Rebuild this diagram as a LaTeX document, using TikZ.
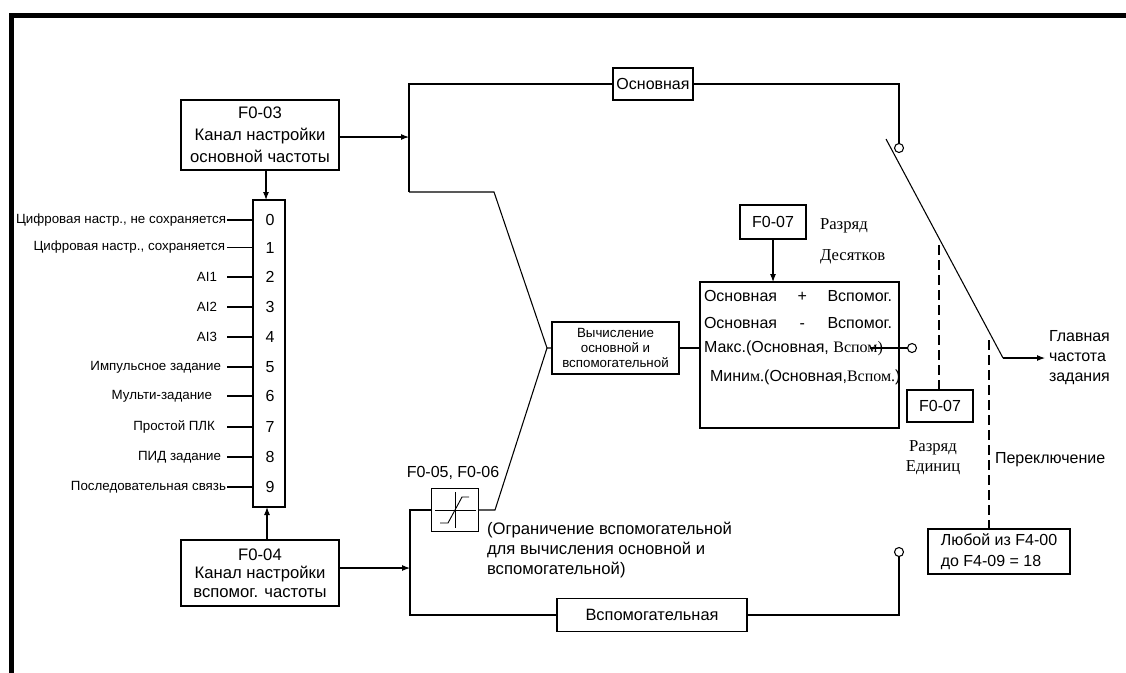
\documentclass[tikz,border=0pt]{standalone}
\usepackage{fontspec}
\setmainfont{Liberation Sans}
\newfontfamily\serfont{Liberation Serif}
\usetikzlibrary{arrows.meta,calc}
\begin{document}
\begin{tikzpicture}[x=0.75pt,y=-0.75pt,
  line width=0.8pt,
  every node/.style={inner sep=0pt, outer sep=0pt},
  sz/.style 2 args={minimum width=#1*0.75pt, minimum height=#2*0.75pt},
  blk/.style={draw, line width=0.8pt, align=center, font=\fontsize{12}{16.5}\selectfont},
  arr/.style={-{Latex[length=6pt,width=4.5pt]}},
  dsh/.style={dash pattern=on 7.5pt off 3.75pt},
  port/.style={draw, circle, minimum size=6.75pt, fill=white},
  lbl/.style={font=\fontsize{10}{12}\selectfont, anchor=east},
  txt/.style={font=\fontsize{12}{15}\selectfont},
]
\useasboundingbox (0,0) rectangle (1126,672);
% frame
\draw[line width=3.75pt] (11.7,690) -- (11.7,15.8) -- (1140,15.8);

% left blocks
\node[blk, sz={158}{70}, font=\fontsize{12.5}{16.5}\selectfont] (F003) at (260,135) {F0-03\\Канал настройки\\основной частоты};
\node[blk, sz={32}{307}] (List) at (269,353.5) {};
\node[blk, sz={158}{66}, font=\fontsize{12.5}{14}\selectfont] (F004) at (260,573) {F0-04\\Канал настройки\\вспомог. частоты};

\foreach \i/\y/\g/\t in {
  0/220/1/{Цифровая настр., не сохраняется},
  1/247.5/2/{Цифровая настр., сохраняется},
  2/277/10/{AI1},
  3/307/10/{AI2},
  4/337/10/{AI3},
  5/367/6/{Импульсное задание},
  6/396/15/{Мульти-задание},
  7/427/12/{Простой ПЛК},
  8/457/6/{ПИД задание},
  9/487/1/{Последовательная связь}}{
  \node[font=\fontsize{12}{14}\selectfont] (n\i) at (270,\y) {\i};
  \node[lbl, inner xsep=\g*0.75pt] (l\i) at (227,\y) {\t};
  \draw (l\i.east) -- (l\i.east -| List.west);
}

\draw[arr] (266,0 |- F003.south) -- (266,0 |- List.north);
\draw[arr] (267,0 |- F004.north) -- (267,0 |- List.south);

% coordinates of main paths
\coordinate (TL) at (409,84);
\coordinate (BL) at (409,192);
\coordinate (A3) at (409,137);
\coordinate (D1) at (494,192);
\coordinate (J) at (547,348);
\coordinate (D2) at (495,510);
\coordinate (AL) at (410,510);
\coordinate (ABL) at (410,615);
\coordinate (A4) at (410,568);

\node[blk, sz={80}{32}] (Osn) at (653,84) {Основная};
\node[blk, sz={127}{52}, font=\fontsize{10}{11.25}\selectfont] (Calc) at (615.5,348) {Вычисление\\основной и\\вспомогательной};
\node[blk, sz={199}{146}] (Form) at (799.5,355) {};
\node[blk, sz={66}{34}] (F007a) at (773,222) {F0-07};
\node[blk, sz={66}{32}] (F007b) at (940,406) {F0-07};
\node[blk, sz={142}{45}, align=left, font=\fontsize{12}{15.5}\selectfont] (Lyu) at (999,551.5) {Любой из F4-00\\до F4-09 = 18};
\node[blk, sz={47}{43}] (Lim) at (455,510) {};
\node[blk, sz={190}{33}, font=\fontsize{12.3}{15}\selectfont] (Vsp) at (652,615) {Вспомогательная};

\node[port] (c1) at (899,148) {};
\node[port] (c2) at (912,348) {};
\node[port] (c3) at (899,552) {};

% limiter symbol
\draw[line width=0.7pt] ($(Lim.center)+(-20,0)$) -- ++(41,0);
\draw[line width=0.7pt] ($(Lim.center)+(0,-18)$) -- ++(0,36);
\draw[line width=0.7pt] ($(Lim.center)+(-15,13)$) -- ++(8,0) -- ++(14,-26) -- ++(7,0);

% paths
\draw[arr] (F003.east |- A3) -- (A3);
\draw (BL) -- (TL) -- (Osn.west);
\draw (Osn.east) -- (Osn.east -| c1) -- (c1.north);
\draw (BL) -- (D1) -- (J) -- (Calc.west);
\draw (J) -- (D2) -- (Lim.east);
\draw (Lim.west) -- (AL) -- (ABL) -- (Vsp.west);
\draw (Vsp.east) -- (Vsp.east -| c3) -- (c3.south);
\draw[arr] (F004.east |- A4) -- (A4);
\draw (Calc.east) -- (Calc.east -| Form.west);
\draw[arr] (F007a.south) -- (F007a.south |- Form.north);

% formula text
\node[anchor=west, font=\fontsize{12}{14}\selectfont] (f1) at (704,296) {\hbox to 141pt{Основная\hfill+\hfill Вспомог.}};
\node[anchor=west, font=\fontsize{12}{14}\selectfont] (f2) at (704,323) {\hbox to 141pt{Основная\hfill-\hfill Вспомог.}};
\node[anchor=west, font=\fontsize{12}{14}\selectfont] (f3) at (704,348) {Макс.(Основная, {\serfont Вспом)}};
\node[anchor=west, font=\fontsize{12}{14}\selectfont] (f4) at (710,377) {Мини{\serfont м.}(Основная,{\serfont Вспом.})};
\coordinate (F3L) at (870,348);
\draw (F3L) -- (c2.west);

% switch
\coordinate (S1) at (886,139);
\coordinate (S2) at (1003,358);
\node[anchor=west, align=left, txt] (Glav) at (1049,358) {Главная\\частота\\задания};
\draw (S1) -- (S2);
\draw[arr, shorten >=3pt] (S2) -- (Glav.west);

% dashed
\coordinate (DA) at (939,245);
\coordinate (DB) at (989,340);
\draw[dsh] (DA) -- (DA |- F007b.north);
\draw[dsh] (DB) -- (DB |- Lyu.north);

% labels
\node[anchor=west, align=left, font=\serfont\fontsize{12.5}{23.25}\selectfont] (Dec) at (820,241.5) {Разряд\\Десятков};
\node[align=center, font=\serfont\fontsize{12.5}{15}\selectfont] (Ed) at (933,458) {Разряд\\Единиц};
\node[anchor=west, txt] (Per) at (995,460) {Переключение};
\node[txt] (F0506) at (453,473) {F0-05, F0-06};
\node[anchor=west, align=left, font=\fontsize{12.5}{15}\selectfont] (Ogr) at (487,550) {(Ограничение вспомогательной\\для вычисления основной и\\вспомогательной)};
\end{tikzpicture}
\end{document}
